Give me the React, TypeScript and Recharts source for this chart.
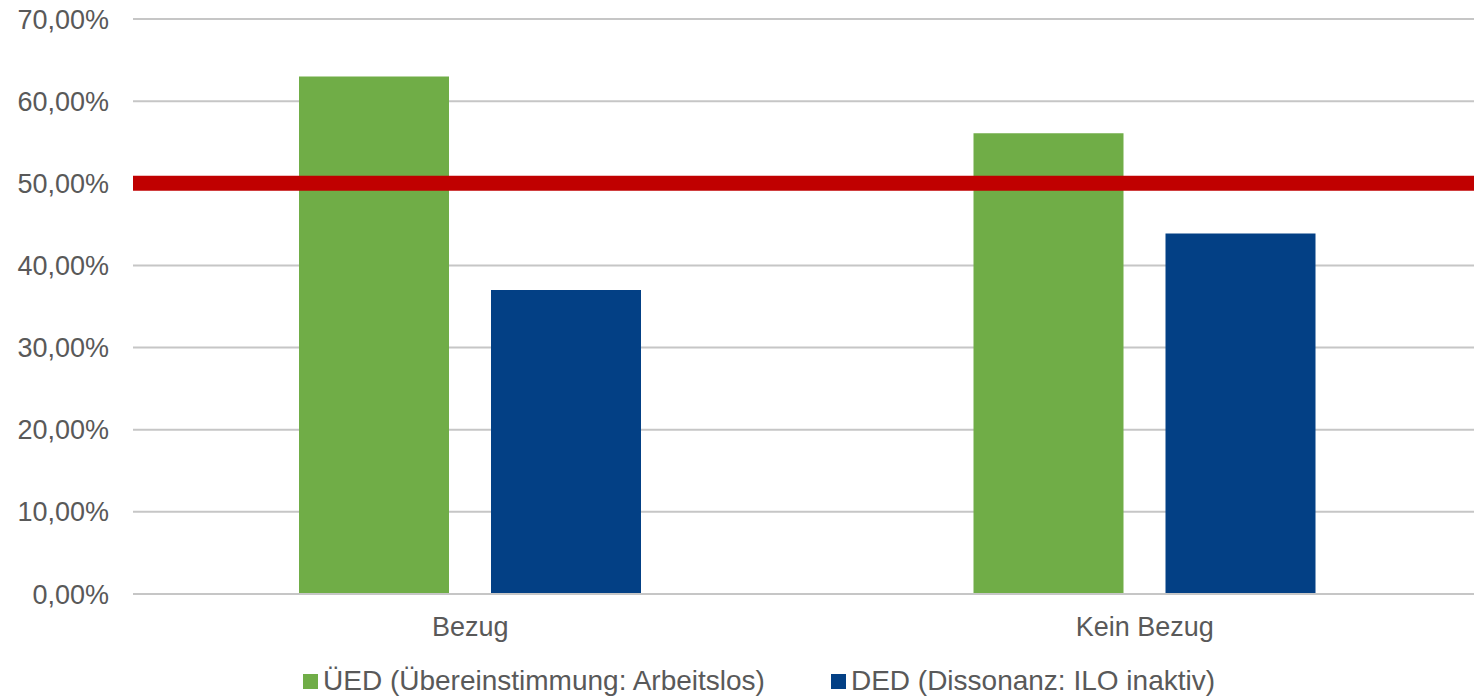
import { Bar, BarChart, CartesianGrid, Legend, ReferenceLine, XAxis, YAxis } from "recharts";

// categories and series values (percent)
const categories = ["Bezug", "Kein Bezug"];
const uedValues = [63.0, 56.1];
const dedValues = [37.0, 43.9];
const yTicks = [0, 10, 20, 30, 40, 50, 60, 70];
const threshold = 50;

const seriesOrder = ["ued", "ded"];
const seriesNames = {
  ued: "ÜED (Übereinstimmung: Arbeitslos)",
  ded: "DED (Dissonanz: ILO inaktiv)",
};

const data = categories.map((name, i) => ({
  name,
  ued: uedValues[i],
  ded: dedValues[i],
}));

const fmtPercent = (v: number) => `${v.toFixed(2).replace(".", ",")}%`;

const FONT = "'Liberation Sans', Arial, sans-serif";

// Simple legend: square swatch + label, kept in series order
const renderLegend = (props: any) => {
  const payload = [...(props.payload || [])].sort(
    (a: any, b: any) => seriesOrder.indexOf(a.dataKey) - seriesOrder.indexOf(b.dataKey)
  );
  return (
    <div
      style={{
        display: "flex",
        gap: 66,
        fontFamily: FONT,
        fontSize: 28,
        lineHeight: "28px",
        color: "#595959",
      }}
    >
      {payload.map((entry: any) => (
        <div key={entry.value} style={{ display: "flex", alignItems: "center", gap: 5 }}>
          <span style={{ width: 15, height: 15, background: entry.color, display: "inline-block" }} />
          <span>{entry.value}</span>
        </div>
      ))}
    </div>
  );
};

const App = () => {
  return (
    <div
      style={{
        position: "absolute",
        left: 0,
        top: 0,
        width: 1474,
        height: 697,
        overflow: "hidden",
        background: "#fff",
      }}
    >
      <BarChart
        width={1490}
        height={697}
        data={data}
        margin={{ top: 19, right: 8, bottom: 15, left: 0 }}
        barGap={42}
      >
        <CartesianGrid vertical={false} stroke="#c6c6c6" strokeWidth={2} />
        <XAxis
          dataKey="name"
          height={60}
          axisLine={{ stroke: "#c6c6c6", strokeWidth: 2 }}
          tickLine={false}
          tickMargin={17}
          tick={{ fill: "#595959", fontSize: 27, fontFamily: FONT }}
        />
        <YAxis
          width={133}
          domain={[0, 70]}
          ticks={yTicks}
          axisLine={false}
          tickLine={false}
          tickMargin={18}
          tickFormatter={fmtPercent}
          tick={{ fill: "#595959", fontSize: 27, fontFamily: FONT }}
        />
        <Legend
          verticalAlign="bottom"
          content={renderLegend}
          wrapperStyle={{ left: 303, top: 667, width: "auto" }}
        />
        <Bar dataKey="ued" name={seriesNames.ued} fill="#70ad47" barSize={150} isAnimationActive={false} />
        <Bar dataKey="ded" name={seriesNames.ded} fill="#034085" barSize={150} isAnimationActive={false} />
        <ReferenceLine y={threshold} stroke="#c00000" strokeWidth={15} />
      </BarChart>
    </div>
  );
};

export default App;
